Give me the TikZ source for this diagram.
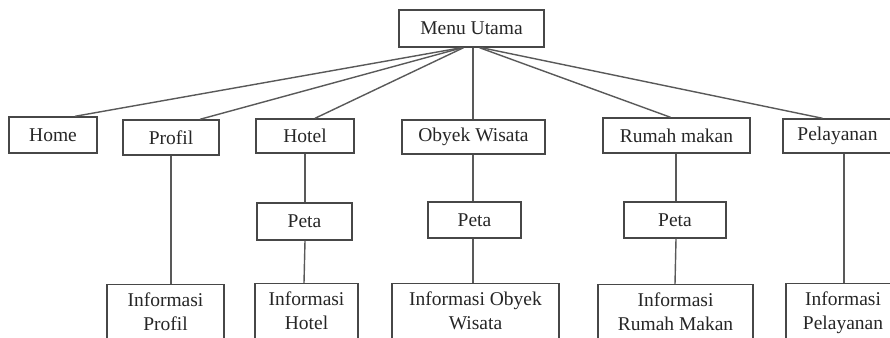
\documentclass[tikz,border=0pt]{standalone}
\usepackage{fontspec}
\setmainfont{Liberation Serif}
\usetikzlibrary{calc}
\begin{document}
\begin{tikzpicture}[x=1pt,y=-1pt,
  box/.style={draw=black!72, line width=1.4pt, fill=white, inner sep=0pt,
    font=\fontsize{19.5}{24}\selectfont, text=black!85},
  infobox/.style={box, anchor=north, align=center, inner ysep=8pt, inner xsep=0pt},
  conn/.style={draw=black!65, line width=1.4pt}]
\useasboundingbox (0,0) rectangle (890,337);
\clip (0,0) rectangle (890,337);
\fill[white] (0,0) rectangle (890,337);
% top
\node[box, minimum width=145pt, minimum height=37pt] (mu) at (471.5,28.5) {Menu Utama};
% level 1
\node[box, minimum width=88pt, minimum height=36pt] (home) at (53,135) {Home};
\node[box, minimum width=96pt, minimum height=35pt] (prof) at (171,137.5) {Profil};
\node[box, minimum width=98pt, minimum height=34pt] (hot) at (305,136) {Hotel};
\node[box, minimum width=143pt, minimum height=34pt] (ow) at (473.5,137) {Obyek Wisata};
\node[box, minimum width=147pt, minimum height=35pt] (rm) at (676.5,135.5) {Rumah makan};
\node[box, minimum width=109pt, minimum height=34pt] (pel) at (837.5,136) {Pelayanan};
% peta
\node[box, minimum width=95pt, minimum height=37pt] (pth) at (304.5,221.5) {Peta};
\node[box, minimum width=93pt, minimum height=36pt] (pto) at (474.5,220) {Peta};
\node[box, minimum width=102pt, minimum height=36pt] (ptr) at (675,220) {Peta};
% info
\node[infobox, minimum width=117pt] (ip) at (165.5,284) {Informasi\\Profil\\[40pt]\mbox{}};
\node[infobox, minimum width=103pt] (ih) at (306.5,283) {Informasi\\Hotel\\[40pt]\mbox{}};
\node[infobox, minimum width=167pt] (io) at (475.5,283) {Informasi Obyek\\Wisata\\[40pt]\mbox{}};
\node[infobox, minimum width=155pt] (ir) at (675.5,284) {Informasi\\Rumah Makan\\[40pt]\mbox{}};
\node[infobox, minimum width=114pt] (ipl) at (843,283) {Informasi\\Pelayanan\\[40pt]\mbox{}};
% connectors from Menu Utama
\draw[conn] ($(mu.south)+(-10,0)$) -- ($(home.north)+(22,0)$);
\draw[conn] ($(mu.south)+(-9,0)$) -- ($(prof.north)+(29,0)$);
\draw[conn] ($(mu.south)+(-8,0)$) -- ($(hot.north)+(10,0)$);
\draw[conn] ($(ow.north |- mu.south)+(-0.5,0)$) -- ($(ow.north)+(-0.5,0)$);
\draw[conn] ($(mu.south)+(8,0)$) -- ($(rm.north)+(-6,0)$);
\draw[conn] ($(mu.south)+(10,0)$) -- ($(pel.north)+(-15,0)$);
% vertical connectors
\draw[conn] (prof.south) -- (prof.south |- ip.north);
\draw[conn] (hot.south) -- (hot.south |- pth.north);
\draw[conn] ($(pth.south)+(0.5,0)$) -- ($(pth.south |- ih.north)+(-0.5,0)$);
\draw[conn] ($(ow.south)+(-0.5,0)$) -- ($(pto.north)+(-1.5,0)$);
\draw[conn] ($(pto.south)+(-1.5,0)$) -- ($(pto.south |- io.north)+(-1.5,0)$);
\draw[conn] ($(rm.south)+(-0.5,0)$) -- ($(rm.south |- ptr.north)+(-0.5,0)$);
\draw[conn] ($(ptr.south)+(1,0)$) -- ($(ptr.south |- ir.north)+(0,0)$);
\draw[conn] ($(pel.south)+(6.5,0)$) -- ($(pel.south |- ipl.north)+(6.5,0)$);
\end{tikzpicture}
\end{document}
